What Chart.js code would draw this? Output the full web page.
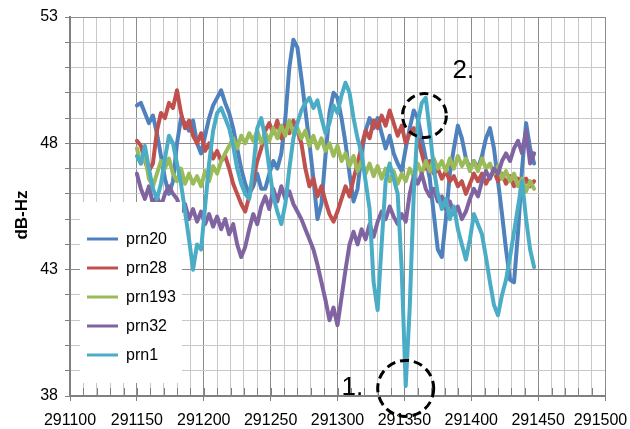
<!DOCTYPE html>
<html>
<head>
<meta charset="utf-8">
<script src="https://cdn.jsdelivr.net/npm/chart.js@4.4.1/dist/chart.umd.min.js"></script>
<style>
  body { margin: 0; background: #fff; }
  canvas { display: block; }
</style>
</head>
<body>
<canvas id="chart" width="630" height="429"></canvas>
<script>
// signal strength readings, one every 3 s from 291150
var startTime = 291150;
var timeStep = 3;

var names = ['prn20', 'prn28', 'prn193', 'prn32', 'prn1'];
var colors = ['#4F81BD', '#C0504D', '#9BBB59', '#8064A2', '#4BACC6'];

var prn20 = [
  49.5, 49.6, 49.2, 48.8, 49.1, 48.4, 47.5, 46.6, 46.0, 46.5,
  48.0, 49.0, 48.8, 48.5, 48.9, 48.0, 47.6, 48.3, 49.0, 49.5,
  49.8, 50.1, 49.6, 49.2, 48.6, 47.8, 47.0, 46.4, 46.0, 46.3,
  46.8, 46.2, 46.2, 46.8, 47.3, 47.0, 47.6, 49.0, 51.0, 52.1,
  51.8, 50.6, 49.3, 48.0, 46.6, 45.0, 45.6, 47.5, 49.2, 50.0,
  49.8, 49.0, 48.0, 46.8, 45.7, 46.2, 47.6, 48.5, 49.0, 48.6,
  49.0, 48.4, 47.8, 48.3, 47.6, 47.2, 46.9, 47.8, 48.6, 49.3,
  49.0, 48.2, 47.4, 46.6, 45.2, 43.8, 43.5, 45.0, 46.8, 47.8,
  48.7, 48.2, 47.4, 47.0, 47.3, 47.0, 47.5, 48.2, 48.6, 47.8,
  46.5, 45.2, 43.8, 42.6, 42.5, 44.5, 47.0, 48.8, 47.8, 47.2
];
var prn28 = [
  48.1, 47.9, 47.3, 46.9, 47.2, 48.5, 49.2, 49.0, 49.6, 49.4,
  50.1, 49.2, 48.6, 48.9, 48.3, 48.0, 48.4, 47.7, 48.0, 47.4,
  47.7, 47.3, 47.5, 47.0, 46.4, 46.0, 45.6, 45.3, 45.9, 46.6,
  47.3, 47.8, 48.5, 48.8, 48.4, 48.9, 48.2, 48.7, 48.4, 48.9,
  48.5, 48.0, 47.0, 46.3, 46.6, 45.9, 46.3, 45.7, 45.2, 44.9,
  45.3, 45.8, 46.3, 45.9, 46.6, 47.2, 47.9, 48.5, 48.2, 48.9,
  48.6, 49.1, 48.7, 49.3, 48.8, 48.3, 48.7, 48.0, 48.4, 48.6,
  48.2, 47.6, 47.0, 47.3, 46.8, 47.0, 46.6, 46.9, 46.5, 46.7,
  46.3, 46.5, 46.0, 46.4, 46.8, 46.5, 46.8, 46.4, 46.7, 46.9,
  46.5, 46.8, 46.4, 46.7, 46.3, 46.6, 46.2, 46.6, 46.3, 46.5
];
var prn193 = [
  47.8, 47.2, 47.5, 46.6, 46.3, 46.8, 47.3, 47.0, 47.4, 46.8,
  46.5, 47.0, 46.4, 46.8, 46.4, 46.7, 46.3, 46.9, 46.5, 47.1,
  46.8, 47.3, 47.6, 47.9, 48.2, 47.8, 48.3, 48.0, 48.4, 48.1,
  48.5, 48.0, 48.4, 48.1, 48.6, 48.2, 48.7, 48.3, 48.9, 48.4,
  48.6, 48.2, 48.5, 47.9, 48.3, 47.8, 48.2, 47.7, 48.0, 47.5,
  47.9, 47.3, 47.6, 47.1, 47.5, 46.9, 47.3, 46.8, 47.2, 46.7,
  47.1, 46.6, 47.0, 46.5, 46.9, 46.4, 46.8, 46.5, 47.0, 46.7,
  47.2, 46.8, 47.3, 46.9, 47.4, 47.0, 47.3, 46.9, 47.4, 47.0,
  47.5, 47.1, 47.4, 46.9, 47.3, 46.9, 47.4, 47.0, 47.2, 46.8,
  47.1, 46.6, 46.9, 46.5, 46.8, 46.3, 46.6, 46.1, 46.5, 46.2
];
var prn32 = [
  46.8, 46.2, 45.8, 46.3, 45.6, 45.9, 45.5, 46.0, 46.3, 46.0,
  45.8, 45.3, 45.6, 45.0, 45.4, 44.9, 45.3, 44.8, 45.2, 44.7,
  45.1, 44.6, 45.0, 44.4, 44.8, 44.0, 43.5, 43.9, 44.6, 45.2,
  44.8, 45.5, 45.9, 45.4, 46.2, 45.7, 46.3, 45.8, 46.1, 45.6,
  45.3, 45.0, 44.6, 44.2, 43.8, 43.2, 42.5, 41.8, 41.0, 41.5,
  40.8, 41.9, 43.0, 44.0, 44.5, 44.0, 44.6, 44.2, 44.8, 44.3,
  44.9, 45.3, 45.0, 45.5, 45.1, 44.8, 45.2, 44.9, 46.0, 46.7,
  46.4, 46.8, 46.2, 45.9, 46.2, 45.7, 45.9, 45.4, 45.7, 45.2,
  45.5, 45.0, 45.3, 45.8, 46.2, 45.9, 46.5, 46.9, 46.6, 47.0,
  46.8, 47.3, 47.6, 47.3, 47.8, 48.1, 47.6, 48.5, 47.2, 47.6
];
var prn1 = [
  47.5, 47.2, 47.9, 47.0, 46.2, 45.8, 46.4, 47.4, 48.3, 48.0,
  47.2, 46.4, 45.3, 44.2, 43.0, 44.0, 43.8, 45.5, 47.2, 48.5,
  49.2, 49.4, 49.0, 48.6, 47.9, 47.0, 46.4, 46.0, 45.8, 47.0,
  48.6, 49.0, 48.2, 47.0, 45.9, 45.3, 44.8, 45.6, 47.0, 48.2,
  48.8, 49.3, 49.6, 49.8, 49.4, 49.7, 49.0, 48.4, 48.8, 49.5,
  49.2, 49.9, 50.4, 50.0, 49.0, 48.2, 47.6, 46.5, 45.4, 42.5,
  41.4, 44.0, 46.5, 47.2, 46.6, 46.0, 43.0, 38.4, 41.5, 46.0,
  48.8, 49.6, 49.8, 48.5, 47.0, 46.0, 45.4, 45.8, 45.0, 45.5,
  44.6, 44.0, 43.4, 44.2, 45.2, 44.8, 44.4, 43.5, 42.5, 41.6,
  41.2, 42.0, 42.6, 43.5, 44.5, 45.5, 46.5, 45.0, 43.8, 43.1
];

// axis ranges
var xMin = 291100, xMax = 291500, xStep = 10, xLabelStep = 50;
var yMin = 38, yMax = 53, yStep = 1, yLabelStep = 5;

// marked spots: circle [x, y, radius px], label position [x, y]
var marks = [
  { label: '1.', circle: [291351, 38.3, 28], text: [291303, 38.05] },
  { label: '2.', circle: [291365, 49.1, 22], text: [291386, 50.6] }
];

var times = prn20.map(function (v, i) { return startTime + i * timeStep; });
var allSeries = [prn20, prn28, prn193, prn32, prn1];

var datasets = allSeries.map(function (vals, k) {
  return {
    label: names[k],
    data: vals.map(function (v, i) { return { x: times[i], y: v }; }),
    borderColor: colors[k],
    backgroundColor: colors[k],
    borderWidth: 4,
    pointRadius: 0,
    tension: 0,
    borderJoinStyle: 'round',
    borderCapStyle: 'round',
    order: allSeries.length - k   // later series drawn on top, like the original
  };
});

var font = 'Liberation Sans, Arial, Helvetica, sans-serif';

function isMajor(value, base, step) {
  return Math.abs((value - base) % step) < 1e-6;
}

// legend box, y title and the two dashed circles
var overlay = {
  id: 'overlay',
  afterDatasetsDraw: function (chart) {
    var ctx = chart.ctx;
    var xs = chart.scales.x, ys = chart.scales.y;
    ctx.save();

    // small inner tick marks along the bottom axis
    ctx.strokeStyle = '#808080';
    ctx.lineWidth = 1;
    for (var t = xMin; t <= xMax; t += xStep) {
      var px = Math.round(xs.getPixelForValue(t)) + 0.5;
      ctx.beginPath();
      ctx.moveTo(px, ys.bottom);
      ctx.lineTo(px, ys.bottom - 8);
      ctx.stroke();
    }

    ctx.fillStyle = '#fff';
    ctx.fillRect(80, 202, 102, 181);
    ctx.font = '16px ' + font;
    ctx.textBaseline = 'middle';
    names.forEach(function (n, k) {
      var yy = 239 + k * 29;
      ctx.strokeStyle = colors[k];
      ctx.lineWidth = 3;
      ctx.beginPath();
      ctx.moveTo(87, yy);
      ctx.lineTo(118, yy);
      ctx.stroke();
      ctx.fillStyle = '#000';
      ctx.fillText(n, 126, yy + 1);
    });
    ctx.restore();
  },
  afterDraw: function (chart) {
    var ctx = chart.ctx;
    var xs = chart.scales.x, ys = chart.scales.y;
    ctx.save();
    ctx.translate(22, 215);
    ctx.rotate(-Math.PI / 2);
    ctx.font = 'bold 17px ' + font;
    ctx.fillStyle = '#000';
    ctx.textAlign = 'center';
    ctx.textBaseline = 'middle';
    ctx.fillText('dB-Hz', 0, 0);
    ctx.restore();

    ctx.save();
    marks.forEach(function (m) {
      ctx.strokeStyle = '#000';
      ctx.lineWidth = 3;
      ctx.setLineDash([9, 5]);
      ctx.beginPath();
      ctx.arc(xs.getPixelForValue(m.circle[0]), ys.getPixelForValue(m.circle[1]), m.circle[2], 0, Math.PI * 2);
      ctx.stroke();
      ctx.fillStyle = '#000';
      ctx.font = '26px ' + font;
      ctx.textBaseline = 'alphabetic';
      ctx.fillText(m.label, xs.getPixelForValue(m.text[0]), ys.getPixelForValue(m.text[1]));
    });
    ctx.restore();
  }
};

new Chart(document.getElementById('chart'), {
  type: 'line',
  data: { datasets: datasets },
  plugins: [overlay],
  options: {
    responsive: false,
    animation: false,
    layout: { padding: { top: 17, right: 25, left: 0, bottom: 0 } },
    plugins: { legend: { display: false }, tooltip: { enabled: false } },
    scales: {
      x: {
        type: 'linear',
        min: xMin,
        max: xMax,
        afterFit: function (s) { s.height = 33; s.paddingRight = 0; s.paddingLeft = 0; },
        border: { color: '#808080', width: 2 },
        grid: {
          tickLength: 5,
          color: function (c) { return isMajor(c.tick.value, xMin, xLabelStep) ? '#8c8c8c' : '#c8c8c8'; },
          tickColor: function (c) { return isMajor(c.tick.value, xMin, xLabelStep) ? '#808080' : 'rgba(0,0,0,0)'; }
        },
        ticks: {
          stepSize: xStep,
          autoSkip: false,
          maxRotation: 0,
          padding: 10,
          color: '#000',
          font: { family: font, size: 16 },
          callback: function (v) {
            if (!isMajor(v, xMin, xLabelStep)) return '';
            // last label pulled in so it stays inside the frame
            return v === xMax ? String(v) + '  ' : String(v);
          }
        }
      },
      y: {
        min: yMin,
        max: yMax,
        afterFit: function (s) { s.width = 70; },
        border: { color: '#808080', width: 2 },
        grid: {
          tickLength: 5,
          color: function (c) { return isMajor(c.tick.value, yMin, yLabelStep) ? '#8c8c8c' : '#c8c8c8'; },
          tickColor: '#808080'
        },
        ticks: {
          stepSize: yStep,
          autoSkip: false,
          padding: 7,
          color: '#000',
          font: { family: font, size: 16 },
          callback: function (v) { return isMajor(v, yMin, yLabelStep) ? String(v) : ''; }
        }
      }
    }
  }
});
</script>
</body>
</html>
